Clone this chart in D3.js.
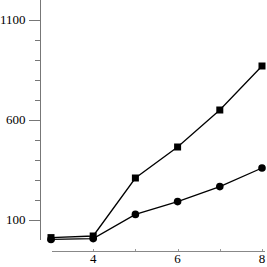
<!DOCTYPE html>
<html>
<head>
<meta charset="utf-8">
<script src="https://cdn.jsdelivr.net/npm/d3@7"></script>
<style>
  body { margin: 0; background: white; }
  text { font-family: "Liberation Serif", serif; font-size: 13px; fill: black; }
</style>
</head>
<body>
<script>
var xs = [3, 4, 5, 6, 7, 8];
var squares = [12, 20, 310, 465, 650, 870];
var circles = [3, 7, 128, 192, 267, 360];
var yMajor = [100, 600, 1100];
var xTicks = [4, 6, 8];
var xMinor = [4, 5, 6, 7, 8];

var width = 267, height = 267;

var svg = d3.select("body").append("svg")
  .attr("width", width)
  .attr("height", height);

var x = d3.scaleLinear().domain([3, 8]).range([51, 262]);
var y = d3.scaleLinear().domain([0, 1100]).range([240, 20]);

// y axis
svg.append("line")
  .attr("x1", 40.5).attr("x2", 40.5)
  .attr("y1", 0).attr("y2", 240)
  .style("stroke", "#777").style("stroke-width", 1);

var minor = d3.range(100, 1200, 100).filter(function(v) { return yMajor.indexOf(v) < 0; });
svg.selectAll(".minor").data(minor).enter().append("line")
  .attr("x1", 35).attr("x2", 40)
  .attr("y1", function(d) { return Math.round(y(d)) + 0.5; })
  .attr("y2", function(d) { return Math.round(y(d)) + 0.5; })
  .style("stroke", "#777");

svg.selectAll(".major").data(yMajor).enter().append("line")
  .attr("x1", 29).attr("x2", 40)
  .attr("y1", function(d) { return Math.round(y(d)) + 0.5; })
  .attr("y2", function(d) { return Math.round(y(d)) + 0.5; })
  .style("stroke", "#777");

svg.selectAll(".ylab").data(yMajor).enter().append("text")
  .attr("x", 25.5)
  .attr("y", function(d) { return y(d); })
  .attr("dy", "0.33em")
  .attr("text-anchor", "end")
  .text(function(d) { return d; });

// x axis
svg.append("line")
  .attr("x1", 52).attr("x2", 265)
  .attr("y1", 251.5).attr("y2", 251.5)
  .style("stroke", "#888");

svg.selectAll(".xtick").data(xMinor).enter().append("line")
  .attr("x1", function(d) { return Math.round(x(d)) + 0.5; })
  .attr("x2", function(d) { return Math.round(x(d)) + 0.5; })
  .attr("y1", 249).attr("y2", 251)
  .style("stroke", "#999");

svg.selectAll(".xlab").data(xTicks).enter().append("text")
  .attr("x", function(d) { return x(d); })
  .attr("y", 263)
  .attr("text-anchor", "middle")
  .text(function(d) { return d; });

var line = d3.line()
  .x(function(d, i) { return x(xs[i]); })
  .y(function(d) { return y(d); });

[squares, circles].forEach(function(s) {
  svg.append("path")
    .attr("d", line(s))
    .style("fill", "none")
    .style("stroke", "black")
    .style("stroke-width", 1.3);
});

svg.selectAll(".sq").data(squares).enter().append("rect")
  .attr("x", function(d, i) { return x(xs[i]) - 3.5; })
  .attr("y", function(d) { return y(d) - 3.5; })
  .attr("width", 7).attr("height", 7)
  .style("fill", "black");

svg.selectAll(".ci").data(circles).enter().append("circle")
  .attr("cx", function(d, i) { return x(xs[i]); })
  .attr("cy", function(d) { return y(d); })
  .attr("r", 3.8)
  .style("fill", "black");
</script>
</body>
</html>
